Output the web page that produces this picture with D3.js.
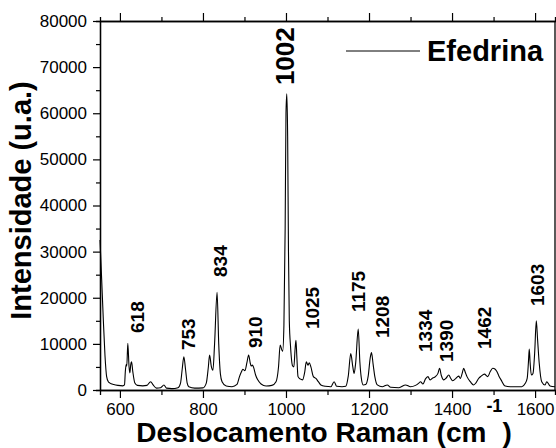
<!DOCTYPE html>
<html>
<head>
<meta charset="utf-8">
<script src="https://cdn.jsdelivr.net/npm/d3@7"></script>
<style>
    html, body { margin: 0; padding: 0; background: #fff; }
    svg { display: block; font-family: "Liberation Sans", Arial, sans-serif; }
</style>
</head>
<body>
<div id="chart"></div>
<script>
// Raman spectrum: shift (cm-1) and intensity (a.u.)
const shift = [552, 556, 560, 564, 568, 572, 576, 585, 595, 607, 611, 613, 615, 616.5, 619, 622, 624, 626, 628, 631,
    636, 642, 655, 665, 674, 680, 688, 698, 706, 712, 725, 740, 746, 750, 754, 758, 762, 766, 780, 800,
    808, 813, 816, 820, 824, 828, 834, 838, 842, 846, 856, 870, 882, 888, 893, 896, 901, 906, 910, 914,
    916, 919, 922, 927, 932, 940, 952, 966, 976, 982, 986, 990, 992, 995, 998, 1000, 1002, 1004, 1006, 1008,
    1011, 1016, 1019, 1022, 1024, 1026, 1029, 1034, 1040, 1045, 1049, 1053, 1056, 1060, 1066, 1072, 1078, 1084, 1095, 1108,
    1116, 1122, 1135, 1144, 1150, 1156, 1161, 1164, 1168, 1174, 1178, 1181, 1186, 1192, 1198, 1203, 1206, 1210, 1214, 1220,
    1232, 1244, 1252, 1272, 1288, 1300, 1312, 1320, 1324, 1330, 1336, 1342, 1347, 1352, 1360, 1366, 1370, 1374, 1380, 1386,
    1392, 1397, 1401, 1408, 1416, 1420, 1425, 1428, 1432, 1436, 1444, 1452, 1458, 1464, 1470, 1478, 1486, 1492, 1498, 1504,
    1508, 1513, 1518, 1528, 1545, 1568, 1576, 1581, 1584, 1586, 1588, 1591, 1595, 1599, 1603, 1606, 1610, 1616, 1624, 1628,
    1636, 1648];
const intensity = [32500, 24000, 15200, 7500, 2900, 1800, 1500, 1200, 1000, 900, 1100, 4000, 5500, 5200, 10100, 5000, 3700, 5500, 6100, 4000,
    1500, 1000, 900, 1000, 1800, 1100, 400, 500, 1100, 400, 300, 500, 1500, 4500, 7200, 4500, 1500, 700, 400, 450,
    1500, 5000, 7600, 5200, 4300, 10000, 21200, 10000, 3500, 1800, 870, 700, 1200, 2900, 4000, 4500, 4200, 6000, 7600, 5800,
    5200, 5400, 4900, 3200, 2200, 1300, 870, 1000, 1800, 5000, 9750, 8700, 8400, 14000, 35000, 60000, 64200, 55000, 30000, 15000,
    9400, 5200, 5000, 9000, 10800, 7500, 2900, 2400, 2200, 3800, 6100, 5400, 5900, 5000, 2900, 2500, 1800, 1100, 800, 700,
    1800, 800, 700, 800, 3000, 7900, 5000, 3600, 6000, 13200, 6000, 2900, 1100, 1200, 3000, 7000, 8100, 5500, 2900, 1100,
    700, 1100, 600, 500, 1100, 700, 1000, 1500, 1800, 1300, 2400, 2900, 2200, 2500, 2900, 3600, 4700, 3200, 2200, 2600,
    3250, 2500, 2000, 2400, 3000, 2500, 3800, 4700, 3800, 2900, 1800, 1100, 1600, 2500, 3000, 3450, 2900, 4000, 4700, 4500,
    4000, 3000, 2200, 870, 700, 700, 1400, 2500, 6000, 8900, 6000, 3250, 3600, 8000, 15000, 11000, 5800, 1800, 1100, 1800,
    870, 700];

// peak annotations: text, shift of the label centre, intensity at the label foot
const peakLabels = ['618', '753', '834', '910', '1002', '1025', '1175', '1208', '1334', '1390', '1462', '1603'];
const peakLabelShift = [641, 764, 841, 925, 996, 1064, 1174, 1231, 1335, 1386, 1477, 1605];
const peakLabelAt = [12360, 8670, 24500, 9100, 66100, 13200, 16900, 11270, 8240, 6070, 8890, 18200];

const xMajor = [600, 800, 1000, 1200, 1400, 1600];
const xMinor = [700, 900, 1100, 1300, 1500];
const yMajor = [0, 10000, 20000, 30000, 40000, 50000, 60000, 70000, 80000];
const yMinor = [5000, 15000, 25000, 35000, 45000, 55000, 65000, 75000];

const seriesName = 'Efedrina';

const width = 556, height = 448;
const margin = { top: 21, right: 1, bottom: 58, left: 100 };

const svg = d3.select('#chart')
    .append('svg')
    .attr('width', width)
    .attr('height', height);

const x = d3.scaleLinear()
    .domain([552, 1648])
    .range([margin.left, width - margin.right]);

const y = d3.scaleLinear()
    .domain([0, 80000])
    .range([height - margin.bottom, margin.top]);

function styleAxis(sel) {
    sel.selectAll('path').attr('stroke', '#000').attr('stroke-width', 1.3);
    sel.selectAll('line').attr('stroke', '#000').attr('stroke-width', 1.2);
    sel.selectAll('text')
        .attr('fill', '#000')
        .style('font-size', '17px');
}

const bottom = height - margin.bottom;
const plain = d3.format('d');

// bottom axis
svg.append('g')
    .attr('transform', `translate(0,${bottom})`)
    .call(d3.axisBottom(x).tickValues(xMinor).tickSize(5).tickFormat(''))
    .call(styleAxis);
svg.append('g')
    .attr('transform', `translate(0,${bottom})`)
    .call(d3.axisBottom(x).tickValues(xMajor).tickSize(8).tickSizeOuter(0).tickPadding(5).tickFormat(plain))
    .call(styleAxis);

// top axis (ticks only)
svg.append('g')
    .attr('transform', `translate(0,${margin.top})`)
    .call(d3.axisTop(x).tickValues(xMinor).tickSize(4).tickFormat(''))
    .call(styleAxis);
svg.append('g')
    .attr('transform', `translate(0,${margin.top})`)
    .call(d3.axisTop(x).tickValues(xMajor).tickSize(8).tickSizeOuter(0).tickFormat(''))
    .call(styleAxis);

// left axis
svg.append('g')
    .attr('transform', `translate(${margin.left},0)`)
    .call(d3.axisLeft(y).tickValues(yMinor).tickSize(4).tickFormat(''))
    .call(styleAxis);
svg.append('g')
    .attr('transform', `translate(${margin.left},0)`)
    .call(d3.axisLeft(y).tickValues(yMajor).tickSize(7).tickSizeOuter(0).tickPadding(6).tickFormat(plain))
    .call(styleAxis);

// right border
svg.append('line')
    .attr('x1', width - margin.right).attr('x2', width - margin.right)
    .attr('y1', margin.top).attr('y2', bottom)
    .attr('stroke', '#000')
    .attr('stroke-width', 1.3);

// spectrum
const line = d3.line()
    .x(d => x(d[0]))
    .y(d => y(d[1]))
    .curve(d3.curveMonotoneX);

svg.append('path')
    .datum(d3.zip(shift, intensity))
    .attr('fill', 'none')
    .attr('stroke', '#000')
    .attr('stroke-width', 1.1)
    .attr('d', line);

// peak labels, rotated
svg.append('g')
    .selectAll('text')
    .data(peakLabels)
    .join('text')
    .attr('transform', (d, i) => `translate(${x(peakLabelShift[i])},${y(peakLabelAt[i])}) rotate(-90)`)
    .attr('dy', '0.36em')
    .attr('font-weight', 'bold')
    .style('font-size', d => d === '1002' ? '26px' : '19px')
    .text(d => d);

// legend
svg.append('line')
    .attr('x1', 346).attr('x2', 420)
    .attr('y1', 51).attr('y2', 51)
    .attr('stroke', '#000')
    .attr('stroke-width', 1);
svg.append('text')
    .attr('x', 427)
    .attr('y', 61)
    .attr('font-weight', 'bold')
    .style('font-size', '29px')
    .text(seriesName);

// axis titles
const xTitle = svg.append('text')
    .attr('x', (margin.left + width) / 2 - 4)
    .attr('y', 442)
    .attr('text-anchor', 'middle')
    .attr('font-weight', 'bold')
    .style('font-size', '28px');
xTitle.append('tspan').text('Deslocamento Raman (cm');
xTitle.append('tspan').attr('dy', -30).style('font-size', '18px').text('-1');
xTitle.append('tspan').attr('dy', 30).text(')');

svg.append('text')
    .attr('transform', `translate(31,${(margin.top + bottom) / 2 - 5}) rotate(-90)`)
    .attr('text-anchor', 'middle')
    .attr('font-weight', 'bold')
    .style('font-size', '29px')
    .text('Intensidade (u.a.)');
</script>
</body>
</html>
